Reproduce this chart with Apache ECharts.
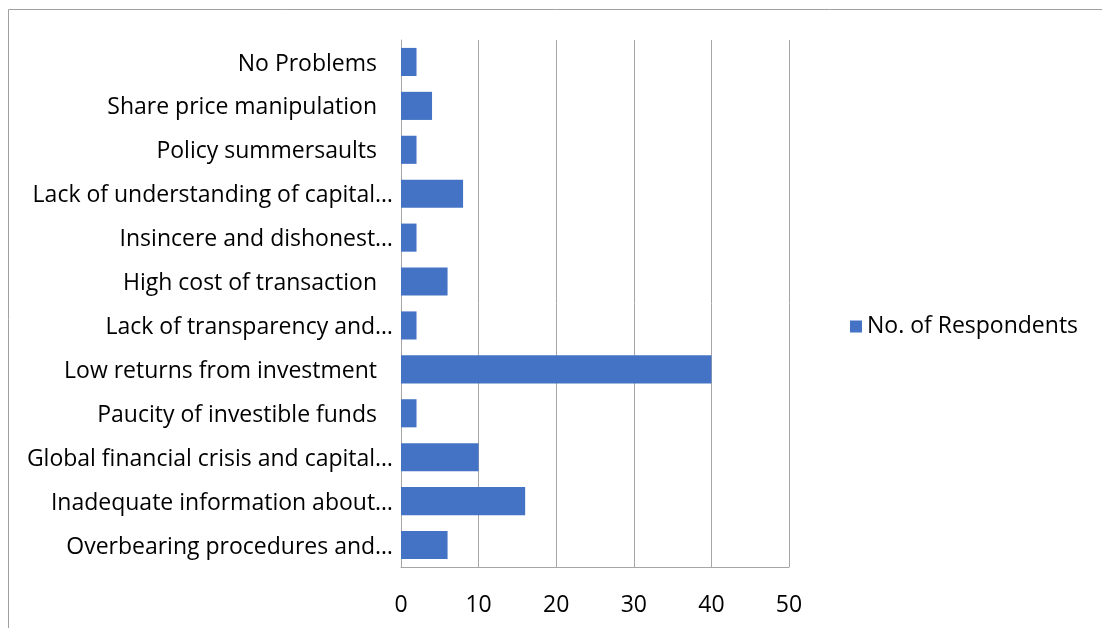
<!DOCTYPE html>
<html>
<head>
<meta charset="utf-8">
<script src="https://cdn.jsdelivr.net/npm/echarts@6/dist/echarts.min.js"></script>
<style>
html,body{margin:0;padding:0;background:#fff;}
#c{width:1102px;height:628px;}
</style>
</head>
<body>
<div id="c"></div>
<script>
// Categories listed bottom to top
var categories = [
  "Overbearing procedures and…",
  "Inadequate information about…",
  "Global financial crisis and capital…",
  "Paucity of investible funds ",
  "Low returns from investment ",
  "Lack of transparency and…",
  "High cost of transaction ",
  "Insincere and dishonest…",
  "Lack of understanding of capital…",
  "Policy summersaults ",
  "Share price manipulation ",
  "No Problems "
];
var respondents = [6, 16, 10, 2, 40, 2, 6, 2, 8, 2, 4, 2];
var seriesName = "No. of Respondents";
var xTicks = [0, 10, 20, 30, 40, 50];

var chart = echarts.init(document.getElementById('c'), null, {renderer: 'canvas'});
var font = '"Open Sans", sans-serif';
chart.setOption({
  animation: false,
  textStyle: {fontFamily: font},
  graphic: [{
    type: 'rect',
    shape: {x: 8.5, y: 9.5, width: 1200, height: 1000},
    style: {fill: 'none', stroke: '#a0a0a0', lineWidth: 1},
    silent: true
  }],
  legend: {
    data: [seriesName],
    left: 845,
    top: 310,
    itemWidth: 12,
    itemHeight: 12,
    itemGap: 5,
    icon: 'rect',
    textStyle: {fontSize: 23, color: '#000', fontFamily: font}
  },
  grid: {left: 401, right: 313, top: 40, bottom: 61, containLabel: false},
  xAxis: {
    type: 'value',
    min: xTicks[0],
    max: xTicks[xTicks.length - 1],
    interval: 10,
    axisLine: {show: true, lineStyle: {color: '#a6a6a6', width: 1}},
    axisTick: {show: false},
    axisLabel: {fontSize: 23, color: '#000', margin: 27, fontFamily: font},
    splitLine: {show: true, lineStyle: {color: '#a6a6a6', width: 1}}
  },
  yAxis: {
    type: 'category',
    data: categories,
    axisLine: {show: true, lineStyle: {color: '#a6a6a6', width: 1}},
    axisTick: {show: false},
    axisLabel: {
      fontSize: 23, color: '#000', margin: 8, fontFamily: font,
      padding: [4, 0, 0, 0],
      formatter: function (v) {
        if (/\s$/.test(v)) return '{p|' + v.replace(/\s+$/, '') + '}';
        return v;
      },
      rich: {p: {fontSize: 23, color: '#000', fontFamily: font, padding: [0, 16, 0, 0]}}
    }
  },
  series: [{
    name: seriesName,
    type: 'bar',
    data: respondents,
    barCategoryGap: '36%',
    itemStyle: {color: '#4472c4'}
  }]
});
</script>
</body>
</html>
